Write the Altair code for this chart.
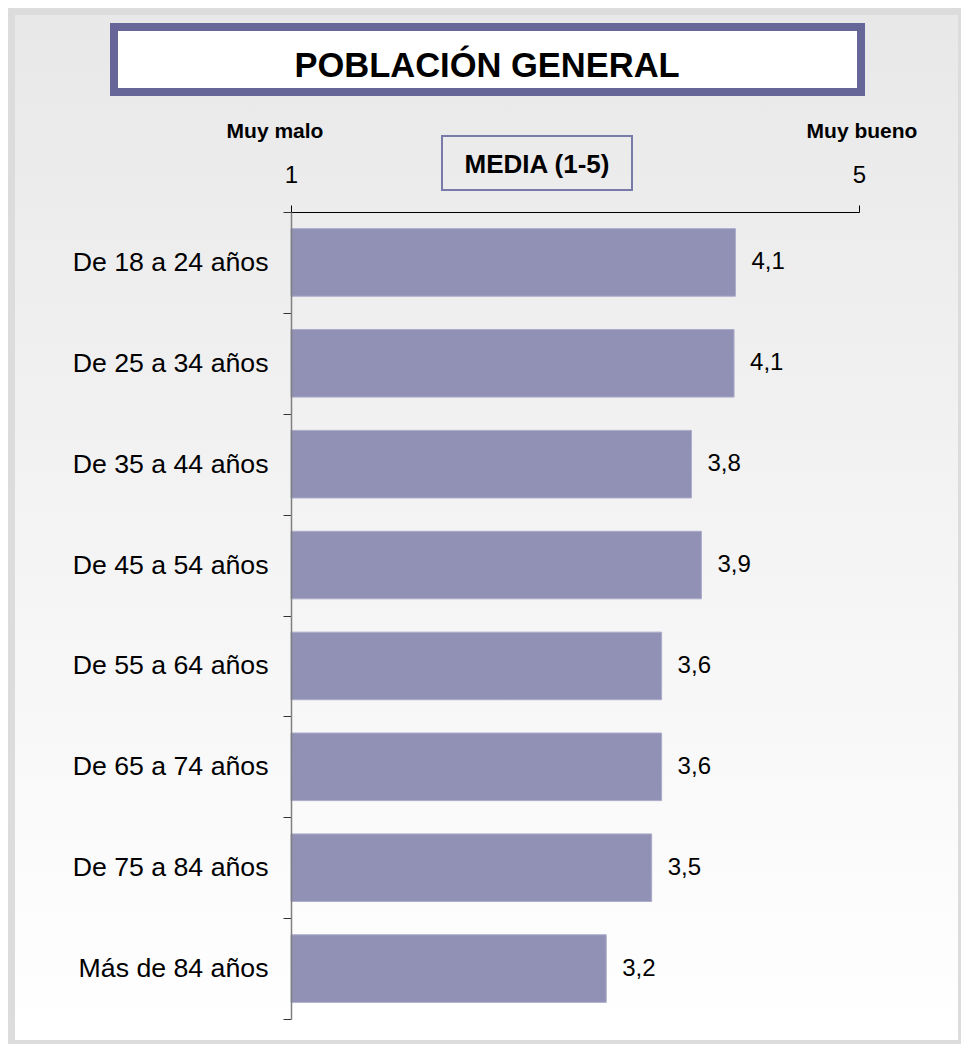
import altair as alt
import pandas as pd

categories = ["De 18 a 24 años", "De 25 a 34 años", "De 35 a 44 años", "De 45 a 54 años",
              "De 55 a 64 años", "De 65 a 74 años", "De 75 a 84 años", "Más de 84 años"]
values = [4.13, 4.12, 3.82, 3.89, 3.61, 3.61, 3.54, 3.22]
labels = ["4,1", "4,1", "3,8", "3,9", "3,6", "3,6", "3,5", "3,2"]

title_text = "POBLACIÓN GENERAL"
box_text = "MEDIA (1-5)"
low_text = "Muy malo"
high_text = "Muy bueno"
scale_min, scale_max = 1, 5

FONT = "Liberation Sans"
W, H = 568, 807

df = pd.DataFrame({"cat": categories, "val": values, "lab": labels, "base": [scale_min] * len(values)})
one = pd.DataFrame({"a": [0]})

xscale = alt.Scale(domain=[scale_min, scale_max], nice=False, zero=False)
yscale = alt.Scale(domain=categories, paddingInner=0, paddingOuter=0)

# decorative background panel (gradient)
panel = alt.Chart(one).mark_rect(
    fill=alt.Gradient(gradient="linear", x1=0, x2=0, y1=0, y2=1,
                      stops=[alt.GradientStop(color="#e8e8e8", offset=0),
                             alt.GradientStop(color="#ffffff", offset=1)])
).encode(x=alt.value(-276), x2=alt.value(667), y=alt.value(-197), y2=alt.value(828))

title_box = alt.Chart(one).mark_rect(fill="white", stroke="#666699", strokeWidth=8).encode(
    x=alt.value(-177), x2=alt.value(570), y=alt.value(-185), y2=alt.value(-120))

title = alt.Chart(one).mark_text(text=title_text, font=FONT, fontSize=34.5, fontWeight="bold",
                                 align="center", baseline="alphabetic", color="black").encode(
    x=alt.value(196), y=alt.value(-135))

media_box = alt.Chart(one).mark_rect(fill="transparent", stroke="#7a7aaa", strokeWidth=2).encode(
    x=alt.value(151), x2=alt.value(341), y=alt.value(-76), y2=alt.value(-22))

media = alt.Chart(one).mark_text(text=box_text, font=FONT, fontSize=26, fontWeight="bold",
                                 align="center", baseline="alphabetic", color="black").encode(
    x=alt.value(246), y=alt.value(-39))

low = alt.Chart(one).mark_text(text=low_text, font=FONT, fontSize=21, fontWeight="bold",
                               align="center", baseline="alphabetic", color="black").encode(
    x=alt.value(-16), y=alt.value(-74))

high = alt.Chart(one).mark_text(text=high_text, font=FONT, fontSize=21, fontWeight="bold",
                                align="center", baseline="alphabetic", color="black").encode(
    x=alt.value(571), y=alt.value(-74))

bars = alt.Chart(df).mark_bar(color="#9191b5", stroke="#ababcb", strokeWidth=1,
                              height={"band": 0.67}).encode(
    x=alt.X("val:Q", scale=xscale,
            axis=alt.Axis(orient="top", values=[scale_min, scale_max], title=None, grid=False,
                          tickSize=7, labelPadding=23, labelBaseline="alphabetic",
                          labelFont=FONT, labelFontSize=24, labelColor="black",
                          domainColor="black", tickColor="black", labelFlush=False,
                          zindex=1, format="d")),
    x2="base:Q",
    y=alt.Y("cat:N", scale=yscale, sort=categories,
            axis=alt.Axis(title=None, tickBand="extent", tickSize=8, labelPadding=15,
                          labelFont=FONT, labelFontSize=26.7, labelColor="black",
                          domainColor="#808080", domainWidth=1.5, tickColor="#333333",
                          labelLimit=400, zindex=1)),
)

texts = alt.Chart(df).mark_text(align="left", baseline="middle", dx=16, font=FONT,
                                fontSize=24, color="black").encode(
    x=alt.X("val:Q", scale=xscale),
    y=alt.Y("cat:N", scale=yscale, sort=categories),
    text="lab:N",
)

chart = alt.layer(panel, title_box, title, media_box, media, low, high, bars, texts).properties(
    width=W, height=H,
    autosize=alt.AutoSizeParams(type="none"),
    padding={"left": 283, "top": 204, "right": 102, "bottom": 25},
).configure(background="#dcdcdc").configure_view(stroke=None, fill=None)

chart.save("out.html", embed_options={"renderer": "svg", "actions": False})
